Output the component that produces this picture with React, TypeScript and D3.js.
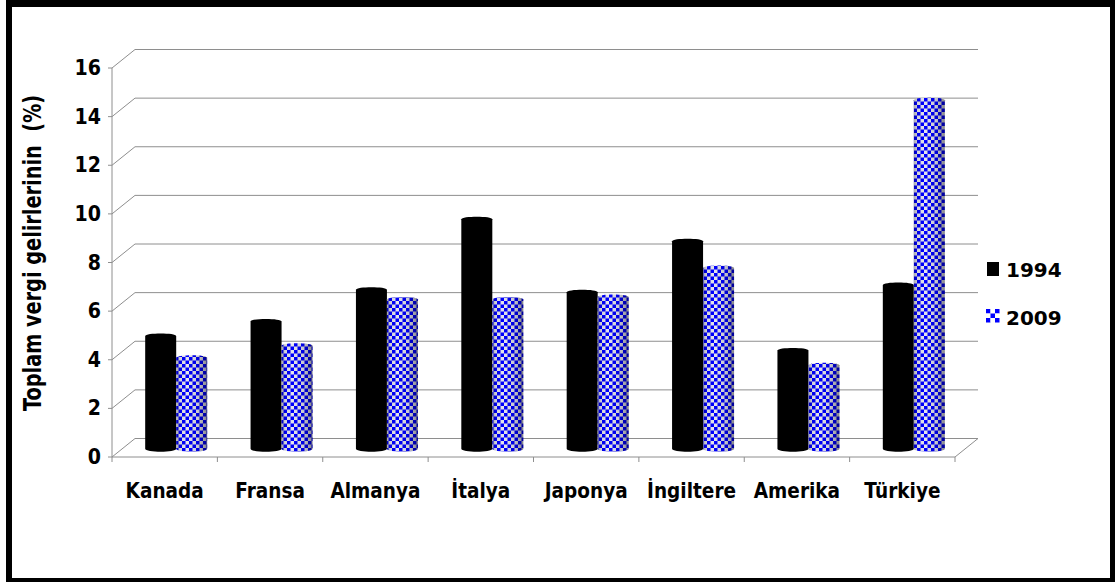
import React from "react";
import * as d3 from "d3";

// Share of total tax revenue (%), 1994 vs 2009
const categories = ["Kanada", "Fransa", "Almanya", "İtalya", "Japonya", "İngiltere", "Amerika", "Türkiye"];
const values1994 = [4.7, 5.3, 6.6, 9.5, 6.5, 8.6, 4.1, 6.8];
const values2009 = [3.8, 4.3, 6.2, 6.2, 6.3, 7.5, 3.5, 14.4];
const seriesNames = ["1994", "2009"];
const yTicks = [0, 2, 4, 6, 8, 10, 12, 14, 16];
const yTitle = "Toplam vergi gelirlerinin\u00a0\u00a0(%)";

const W = 1115;
const H = 585;
const FONT = "'DejaVu Sans', sans-serif";

// pseudo-3D frame: front plane and back wall offset
const X0 = 112;
const X1 = 955;
const DX = 23;
const DY = -18.5;
const BAR_W = 31;
const GRID = "#8e8e8e";

export default function App() {
  const yFront = d3.scaleLinear().domain([0, 16]).range([457, 68]);
  const yBack = (v: number) => yFront(v) + DY;
  const yMid = (v: number) => yFront(v) + DY / 2;
  const x = d3.scaleBand<string>().domain(categories).range([X0, X1]);
  const bw = x.bandwidth();

  // cylinder outline with rounded cap and slightly rounded base
  const cylinder = (x0: number, top: number, base: number) => {
    const ry = 2.5;
    const p = d3.path();
    p.moveTo(x0, base);
    p.lineTo(x0, top + ry);
    p.bezierCurveTo(x0, top - ry / 3, x0 + BAR_W, top - ry / 3, x0 + BAR_W, top + ry);
    p.lineTo(x0 + BAR_W, base);
    p.bezierCurveTo(x0 + BAR_W, base + ry * 1.6, x0, base + ry * 1.6, x0, base);
    p.closePath();
    return p.toString();
  };

  const base = yMid(0) + 1;

  return (
    <svg
      width={W}
      height={H}
      style={{ position: "fixed", left: 0, top: 0, background: "#fff" }}
      fontFamily={FONT}
    >
      <defs>
        <pattern id="checker" patternUnits="userSpaceOnUse" width={7} height={7}>
          <rect width={7} height={7} fill="#e6e6ec" />
          <rect width={3.5} height={3.5} fill="#0000ff" />
          <rect x={3.5} y={3.5} width={3.5} height={3.5} fill="#0000ff" />
        </pattern>
        <linearGradient id="shade" x1="0" x2="1" y1="0" y2="0">
          <stop offset="0" stopColor="#000" stopOpacity={0.28} />
          <stop offset="0.12" stopColor="#000" stopOpacity={0.08} />
          <stop offset="0.35" stopColor="#000" stopOpacity={0} />
          <stop offset="0.7" stopColor="#000" stopOpacity={0.12} />
          <stop offset="1" stopColor="#000" stopOpacity={0.42} />
        </linearGradient>
      </defs>

      {/* back wall gridlines */}
      {yTicks.map((t) => (
        <line key={"g" + t} x1={X0 + DX} x2={X1 + DX} y1={yBack(t)} y2={yBack(t)} stroke={GRID} strokeWidth={1} />
      ))}
      {/* side wall diagonals */}
      {yTicks.map((t) => (
        <line key={"d" + t} x1={X0} x2={X0 + DX} y1={yFront(t)} y2={yBack(t)} stroke={GRID} strokeWidth={1} />
      ))}
      {/* floor right edge and front edge */}
      <line x1={X1} x2={X1 + DX} y1={yFront(0)} y2={yBack(0)} stroke={GRID} />
      <line x1={X0} x2={X1} y1={yFront(0)} y2={yFront(0)} stroke={GRID} />
      {/* value axis */}
      <line x1={X0} x2={X0} y1={yFront(16)} y2={yFront(0)} stroke={GRID} />
      {yTicks.map((t) => (
        <line key={"t" + t} x1={X0 - 4} x2={X0} y1={yFront(t)} y2={yFront(t)} stroke={GRID} />
      ))}
      {/* category ticks */}
      {d3.range(categories.length + 1).map((i) => (
        <line key={"c" + i} x1={X0 + i * bw} x2={X0 + i * bw} y1={yFront(0)} y2={yFront(0) + 5} stroke={GRID} />
      ))}

      {/* bars */}
      {categories.map((c, i) => {
        const cx = (x(c) as number) + bw / 2 + DX / 2;
        return (
          <g key={c}>
            <path d={cylinder(cx - BAR_W, yMid(values1994[i]), base)} fill="#000" />
            <path d={cylinder(cx, yMid(values2009[i]), base)} fill="url(#checker)" />
            <path d={cylinder(cx, yMid(values2009[i]), base)} fill="url(#shade)" />
          </g>
        );
      })}

      {/* tick labels */}
      {yTicks.map((t) => (
        <text
          key={"l" + t}
          transform={`translate(101,${yFront(t) + 7}) scale(1,1.08)`}
          textAnchor="end"
          fontWeight="bold"
          fontSize={19}
          fill="#000"
        >
          {t}
        </text>
      ))}
      {categories.map((c) => (
        <text
          key={"x" + c}
          transform={`translate(${(x(c) as number) + bw / 2},498) scale(1,1.12)`}
          textAnchor="middle"
          fontWeight="bold"
          fontSize={18.5}
          fill="#000"
        >
          {c}
        </text>
      ))}

      {/* axis title */}
      <text
        transform={`translate(41,${253}) rotate(-90) scale(1,1.25)`}
        textAnchor="middle"
        fontWeight="bold"
        fontSize={19.3}
        fill="#000"
      >
        {yTitle}
      </text>

      {/* legend */}
      <rect x={987} y={262} width={12} height={14} fill="#000" />
      <text x={1006} y={277} fontWeight="bold" fontSize={20} fill="#000">
        {seriesNames[0]}
      </text>
      <g transform="translate(986,309)">
        {d3.range(9).map((k) => {
          const r = Math.floor(k / 3);
          const col = k % 3;
          return (
            <rect
              key={k}
              x={col * 4.5}
              y={r * 4.5}
              width={4.5}
              height={4.5}
              fill={(r + col) % 2 === 0 ? "#0000ff" : "#ffffff"}
            />
          );
        })}
      </g>
      <text x={1006} y={325} fontWeight="bold" fontSize={20} fill="#000">
        {seriesNames[1]}
      </text>

      {/* outer frame */}
      <rect x={6} y={0} width={6} height={582} fill="#000" />
      <rect x={6} y={0} width={1109} height={7} fill="#000" />
      <rect x={1110} y={0} width={5} height={582} fill="#000" />
      <rect x={6} y={578} width={1109} height={4} fill="#000" />
    </svg>
  );
}
